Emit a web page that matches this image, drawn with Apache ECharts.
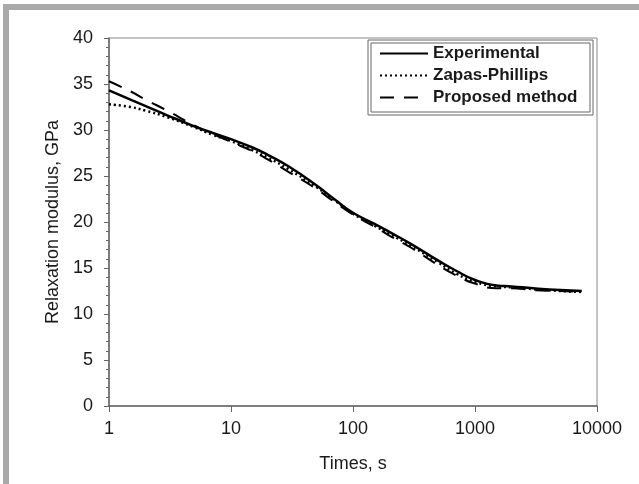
<!DOCTYPE html>
<html>
<head>
<meta charset="utf-8">
<script src="https://cdn.jsdelivr.net/npm/echarts@6/dist/echarts.min.js"></script>
<style>
  html, body { margin: 0; padding: 0; background: #fff; }
  #chart { width: 639px; height: 484px; }
</style>
</head>
<body>
<div id="chart"></div>
<script>
// times (s) at which the curves were read
const times = [1, 1.5, 2, 3, 5, 7, 10, 15, 20, 30, 50, 70, 100, 150, 200, 300, 500, 700, 1000, 1500, 2000, 3000, 5000, 7500]
const experimental = [34.3, 33.3, 32.6, 31.6, 30.4, 29.7, 29.0, 28.1, 27.3, 26.0, 24.0, 22.5, 21.0, 19.8, 18.9, 17.6, 15.8, 14.7, 13.7, 13.1, 13.0, 12.8, 12.6, 12.5]
const zapasPhillips = [32.8, 32.5, 32.1, 31.4, 30.3, 29.5, 28.8, 27.8, 27.0, 25.7, 23.8, 22.4, 20.9, 19.6, 18.7, 17.4, 15.6, 14.4, 13.5, 13.0, 12.9, 12.7, 12.5, 12.4]
const proposed = [35.3, 34.2, 33.3, 32.1, 30.5, 29.6, 28.7, 27.7, 26.8, 25.4, 23.6, 22.2, 20.8, 19.5, 18.5, 17.2, 15.3, 14.2, 13.3, 12.8, 12.8, 12.6, 12.5, 12.4]

const font = 'Liberation Sans, Arial, sans-serif'
const txt = '#1a1a1a'

function pairs(ys) {
  return times.map((t, i) => [t, ys[i]])
}

const chart = echarts.init(document.getElementById('chart'))
chart.setOption({
  animation: false,
  backgroundColor: '#fff',
  textStyle: { fontFamily: font },
  grid: {
    left: 109, right: 42, top: 38, bottom: 78,
    show: true, borderColor: '#888', borderWidth: 1
  },
  legend: {
    left: 379, top: 45, padding: 0,
    orient: 'vertical',
    itemWidth: 48, itemHeight: 14, itemGap: 5,
    itemStyle: { opacity: 0 },
    textStyle: { fontFamily: font, fontSize: 17, fontWeight: 'bold', color: txt },
    data: ['Experimental', 'Zapas-Phillips', 'Proposed method']
  },
  graphic: [
    // gray frame (top / left)
    { type: 'rect', shape: { x: 3, y: 4, width: 636, height: 6 }, style: { fill: '#a9a9a9' }, silent: true },
    { type: 'rect', shape: { x: 3, y: 4, width: 6, height: 480 }, style: { fill: '#a9a9a9' }, silent: true },
    // legend box, double line
    { type: 'rect', shape: { x: 368, y: 40, width: 225, height: 75 }, style: { fill: 'none', stroke: '#666', lineWidth: 1 }, silent: true },
    { type: 'rect', shape: { x: 371, y: 43, width: 219, height: 69 }, style: { fill: 'none', stroke: '#666', lineWidth: 1 }, silent: true }
  ],
  xAxis: {
    type: 'log', logBase: 10, min: 1, max: 10000,
    name: 'Times, s', nameLocation: 'middle', nameGap: 49,
    nameTextStyle: { fontFamily: font, fontSize: 18, color: txt },
    axisLine: { lineStyle: { color: '#666', width: 1.5 } },
    axisTick: { length: 6, lineStyle: { color: '#666' } },
    axisLabel: { fontFamily: font, fontSize: 18, color: txt, margin: 14, formatter: v => String(v) },
    splitLine: { show: false }
  },
  yAxis: {
    type: 'value', min: 0, max: 40, interval: 5,
    name: 'Relaxation modulus, GPa', nameLocation: 'middle', nameGap: 40,
    nameTextStyle: { fontFamily: font, fontSize: 18, color: txt },
    axisLine: { show: true, lineStyle: { color: '#666', width: 1.5 } },
    axisTick: { length: 5, lineStyle: { color: '#666' } },
    minorTick: { show: true, splitNumber: 5, length: 3, lineStyle: { color: '#666' } },
    axisLabel: { fontFamily: font, fontSize: 18, color: txt, margin: 16 },
    splitLine: { show: false }
  },
  series: [
    {
      name: 'Experimental', type: 'line', data: pairs(experimental),
      symbol: 'none', smooth: true, color: '#000',
      lineStyle: { color: '#000', width: 2.5, type: 'solid' }
    },
    {
      name: 'Zapas-Phillips', type: 'line', data: pairs(zapasPhillips),
      symbol: 'none', smooth: true, color: '#000',
      lineStyle: { color: '#000', width: 2.5, type: [2, 3] }
    },
    {
      name: 'Proposed method', type: 'line', data: pairs(proposed),
      symbol: 'none', smooth: true, color: '#000',
      lineStyle: { color: '#000', width: 2, type: [14, 10] }
    }
  ]
})
</script>
</body>
</html>
